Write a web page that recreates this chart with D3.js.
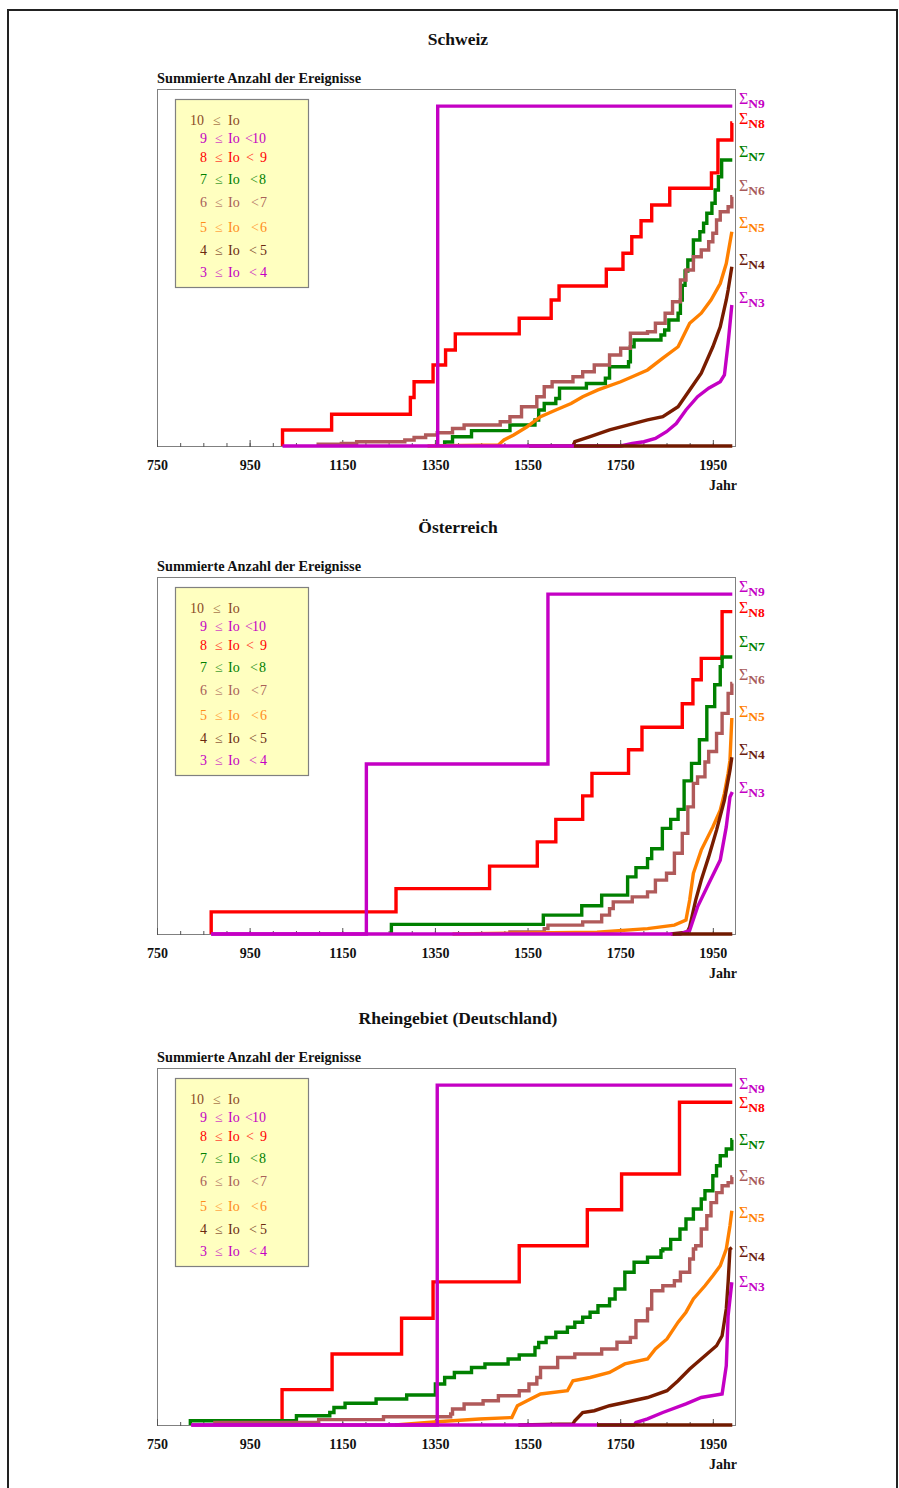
<!DOCTYPE html>
<html><head><meta charset="utf-8">
<script src="https://cdn.jsdelivr.net/npm/d3@7"></script>
<style>
html,body{margin:0;padding:0;background:#fff;}
svg{display:block;font-family:"Liberation Serif","Times New Roman",serif;}
</style></head><body>
<svg id="c" width="899" height="1488"></svg>
<script>
// ---------- DATA (year, cumulative count in % of panel height) ----------
const tickLabels = [750, 950, 1150, 1350, 1550, 1750, 1950];
const seriesKeys = ["N9","N8","N7","N6","N5","N4","N3"];
const legendNums = ["10","9","8","7","6","5","4","3"];
const legendUpper = ["", "10", "9", "8", "7", "6", "5", "4"];
const panelTitles = ["Schweiz", "Österreich", "Rheingebiet (Deutschland)"];

// Schweiz
const chN9 = [[1356,0],[1356,95.2],[1992,95.2]];
const chN8 = [[1021,0],[1021,4.5],[1127,8.9],[1297,13.6],[1305,18],[1346,22.7],[1373,26.9],[1394,31.4],[1532,35.8],[1601,40.9],[1618,44.8],[1720,49.5],[1756,54],[1775,58.6],[1795,63.1],[1818,67.5],[1857,72.2],[1947,76.5],[1961,85.7],[1991,90.5],[1992,90.5]];
const chN7 = [[1371,0],[1371,1.1],[1388,2.6],[1429,4.3],[1512,5.9],[1566,7.3],[1574,10.1],[1586,11.9],[1611,13.3],[1619,16.2],[1677,17.5],[1718,19],[1727,22.2],[1768,23.6],[1772,27.8],[1780,29.7],[1838,31.1],[1846,32.5],[1855,35.3],[1875,37.2],[1880,40.9],[1884,45],[1890,49],[1896,52.1],[1908,57.7],[1922,60],[1930,62.4],[1937,65.2],[1948,68],[1955,71.7],[1962,75.4],[1969,80.1],[1992,80.1]];
const chN6 = [[1098,0],[1098,0.5],[1148,0.7],[1181,1.2],[1285,1.7],[1305,2.4],[1330,3.1],[1355,3.7],[1388,4.9],[1413,5.9],[1491,6.8],[1512,8.2],[1537,11],[1570,13.8],[1586,16.6],[1603,18],[1648,19.4],[1669,20.8],[1694,22.7],[1727,25.5],[1751,27.4],[1772,31.6],[1809,32],[1826,34.4],[1847,37.2],[1863,40.4],[1880,46.5],[1892,49.3],[1908,53],[1925,54.9],[1941,57.2],[1950,59.6],[1958,63.3],[1966,65.6],[1983,67],[1991,69.8],[1992,69.8]];
const chN5 = [[1334,0],[1487,0.3],[1499,1.7],[1520,3.1],[1549,5.4],[1578,8.2],[1611,10.1],[1644,11.9],[1669,13.8],[1702,15.7],[1751,18],[1776,19.4],[1809,21.3],[1842,24.6],[1875,27.8],[1900,34.4],[1925,37.2],[1946,40.9],[1966,45.5],[1979,51.1],[1991,60]];
const chN4 = [[1553,0],[1648,0],[1652,1.2],[1685,2.6],[1727,4.5],[1768,5.9],[1809,7.3],[1842,8.2],[1875,11],[1900,15.7],[1925,20.4],[1950,27.8],[1966,33.4],[1979,40.9],[1983,43.7],[1991,50.2]];
const chN3 = [[1021,0],[1751,0],[1776,0.7],[1801,1.2],[1826,2.1],[1850,4],[1871,6.3],[1892,10.1],[1917,13.8],[1941,16.2],[1966,18],[1975,19.9],[1983,28.8],[1991,39.5]];
const chN10 = [[1650,0],[1992,0]];

// Österreich
const atN9 = [[867,0],[1202,0],[1202,47.6],[1594,47.6],[1594,95.2],[1992,95.2]];
const atN8 = [[867,0],[867,6.2],[1266,12.7],[1468,19],[1571,25.8],[1611,32.1],[1669,38.7],[1689,45],[1768,51.6],[1797,57.9],[1884,64.5],[1907,71.2],[1925,77.2],[1970,90.3],[1992,90.3]];
const atN7 = [[1256,0],[1256,2.7],[1584,5.3],[1667,7.9],[1710,10.9],[1766,16],[1784,18.6],[1809,21.1],[1818,23.9],[1841,29.6],[1859,32.1],[1875,34.9],[1888,42.9],[1904,47.8],[1921,54.4],[1937,63.7],[1954,69.8],[1966,74.9],[1970,77.6],[1992,77.6]];
const atN6 = [[1512,0],[1512,0.6],[1586,1.5],[1594,2.5],[1669,3.4],[1710,5.3],[1727,7.1],[1735,9],[1776,10.4],[1809,11.8],[1826,15.1],[1850,17],[1867,22.6],[1884,28.2],[1896,35.6],[1908,42.2],[1917,44],[1933,48.2],[1941,51.1],[1958,56.2],[1970,61.8],[1983,67.4],[1991,70.2],[1992,70.2]];
const atN5 = [[1388,0],[1700,0.5],[1809,1.5],[1867,2.5],[1892,3.9],[1900,9.5],[1908,17],[1925,23.5],[1950,30],[1966,34.7],[1975,39.4],[1983,45],[1987,48.7],[1991,60.5]];
const atN4 = [[1859,0],[1895,0.5],[1900,2],[1913,9.5],[1925,15.1],[1941,21.6],[1958,29.1],[1975,37.5],[1987,45.9],[1991,49.5]];
const atN3 = [[867,0],[1880,0],[1900,1],[1917,7.6],[1941,14.1],[1966,20.7],[1979,30],[1987,38.4],[1992,39.8]];
const atN10 = [[1863,0],[1992,0]];

// Rheingebiet
const rhN9 = [[824,0],[1355,0],[1355,95.2],[1992,95.2]];
const rhN8 = [[1020,0],[1020,9.9],[1128,19.9],[1278,29.9],[1346,40.1],[1532,50.2],[1679,60.3],[1753,70.3],[1878,90.4],[1992,90.4]];
const rhN7 = [[822,0],[822,1.2],[1051,2.6],[1123,3.5],[1132,4.9],[1156,6.1],[1223,7.3],[1289,8.4],[1351,11.5],[1371,13.3],[1392,14.7],[1429,16.1],[1458,17.1],[1508,18.5],[1532,19.6],[1566,21.7],[1574,23.1],[1590,24.5],[1611,26],[1636,27.4],[1652,28.8],[1669,30.2],[1685,31.6],[1702,33.4],[1727,35.3],[1739,38.1],[1760,42.8],[1780,45.6],[1809,47],[1838,48.8],[1842,49.3],[1859,52],[1879,54.9],[1892,57.7],[1908,60.5],[1925,63.3],[1933,65.6],[1950,69.8],[1958,72.6],[1966,75.4],[1979,77.3],[1991,79.9],[1992,79.9]];
const rhN6 = [[875,0],[875,0.7],[1099,1.5],[1239,2.3],[1384,3.1],[1388,4.5],[1413,5.9],[1454,6.8],[1487,8.2],[1532,9.6],[1553,11.5],[1570,13.3],[1578,16.1],[1615,18.9],[1652,19.9],[1710,21.3],[1743,23.2],[1772,24.5],[1784,29.2],[1809,32.5],[1818,37.6],[1842,39],[1867,40.4],[1880,42.8],[1900,46.5],[1908,49.3],[1913,50.2],[1925,54.9],[1937,58.6],[1946,62.3],[1958,65.1],[1970,67],[1983,67.9],[1991,69.5],[1992,69.5]];
const rhN5 = [[1264,0],[1355,0.9],[1446,1.7],[1516,2.1],[1528,5.4],[1549,6.8],[1578,8.7],[1636,9.6],[1648,12.4],[1685,13.3],[1727,14.7],[1760,17.1],[1809,18.5],[1826,21.3],[1851,24.1],[1875,28.8],[1892,31.6],[1908,35.3],[1933,39],[1950,41.8],[1966,44.6],[1979,49.3],[1987,55.8],[1991,60]];
const rhN4 = [[1530,0],[1648,0.3],[1652,1.2],[1669,3.5],[1694,4],[1727,5.4],[1760,6.3],[1809,7.7],[1851,9.6],[1875,12.4],[1900,15.7],[1933,19.4],[1958,22.2],[1970,25],[1979,32.5],[1983,40],[1987,49.3],[1991,49.7]];
const rhN3 = [[824,0],[1780,0],[1784,0.7],[1809,1.7],[1842,3.5],[1892,5.9],[1925,7.7],[1970,8.7],[1979,16.6],[1983,30.6],[1991,40]];
const rhN10 = [[1700,0],[1992,0]];

// ---------- STYLE / LAYOUT ----------
const lineColors = {N10:"#701a00",N9:"#c400c4",N8:"#ff0000",N7:"#008000",N6:"#b05a5a",N5:"#ff8000",N4:"#781c00",N3:"#c400c4"};
const labelColors = {N9:"#c400c4",N8:"#ff0000",N7:"#008000",N6:"#a85a5a",N5:"#ff8000",N4:"#6b2010",N3:"#c400c4"};
const legendColors = ["#8b4a26","#c400c4","#ff0000","#008000","#a86058","#ff8c1a","#6b2a10","#c400c4"];
// sparse series drawn as stairs, dense ones as a jagged line
const stepped = {N9:true,N8:true,N7:true,N6:true,N5:false,N4:false,N3:false,N10:false};
const drawOrder = ["N8","N7","N6","N5","N4","N3","N9","N10"];

const panels = [
  {top:89, data:{N9:chN9,N8:chN8,N7:chN7,N6:chN6,N5:chN5,N4:chN4,N3:chN3,N10:chN10}, labelY:[10,30,63,97,134,171,209]},
  {top:577, data:{N9:atN9,N8:atN8,N7:atN7,N6:atN6,N5:atN5,N4:atN4,N3:atN3,N10:atN10}, labelY:[10,31,65,98,135,173,211]},
  {top:1068, data:{N9:rhN9,N8:rhN8,N7:rhN7,N6:rhN6,N5:rhN5,N4:rhN4,N3:rhN3,N10:rhN10}, labelY:[16,35,72,108,145,184,214]}
];

const svg = d3.select("#c");
svg.append("rect").attr("x",8).attr("y",10).attr("width",889).attr("height",1500)
  .attr("fill","none").attr("stroke","#222").attr("stroke-width",2);

const x = d3.scaleLinear().domain([750,2000]).range([157,736]);

panels.forEach((p,i)=>{
  const top = p.top, H = 358, bottom = top + H;
  const y = d3.scaleLinear().domain([0,100]).range([bottom-1, top]);
  const g = svg.append("g");

  g.append("text").attr("x",458).attr("y",top-44).attr("text-anchor","middle")
    .attr("font-size",17.5).attr("font-weight","bold").attr("fill","#111").text(panelTitles[i]);
  g.append("text").attr("x",157).attr("y",top-6.5)
    .attr("font-size",14.3).attr("font-weight","bold").attr("fill","#111").text("Summierte Anzahl der Ereignisse");

  g.append("rect").attr("x",157.5).attr("y",top+0.5).attr("width",578).attr("height",H-1)
    .attr("fill","#fff").attr("stroke","#808080").attr("stroke-width",1);

  const minor = g.append("g").attr("transform",`translate(0,${bottom})`)
    .call(d3.axisBottom(x).tickValues(d3.range(750,2000,50)).tickSize(-4).tickFormat(""));
  minor.select(".domain").remove();
  minor.selectAll("line").attr("stroke","#555");
  const major = g.append("g").attr("transform",`translate(0,${bottom})`)
    .call(d3.axisBottom(x).tickValues(tickLabels).tickSize(-7).tickPadding(13.5).tickFormat(d3.format("d")));
  major.select(".domain").remove();
  major.selectAll("line").attr("stroke","#555");
  major.selectAll("text").attr("font-family","'Liberation Serif',serif").attr("font-size",14)
    .attr("font-weight","bold").attr("fill","#111");

  g.append("text").attr("x",737).attr("y",bottom+43).attr("text-anchor","end")
    .attr("font-size",14).attr("font-weight","bold").attr("fill","#111").text("Jahr");

  // legend
  const lg = g.append("g");
  lg.append("rect").attr("x",175.5).attr("y",top+10.5).attr("width",133).attr("height",188)
    .attr("fill","#ffffc0").attr("stroke","#808080").attr("stroke-width",1.2);
  const rowY = [31,48.7,68,89.7,113,137.7,161,182.7];
  const ltX = [0,245,246,250,251,251,249,249];
  const upX = [0,252,260,259,260,260,260,260];
  legendNums.forEach((n,k)=>{
    const yy = top + rowY[k] + 5;
    const c = legendColors[k];
    const t = lg.append("text").attr("font-size",14).attr("fill",c).attr("y",yy);
    t.append("tspan").attr("x", k===0?190:200).text(n);
    t.append("tspan").attr("x", k===0?213:215).attr("opacity",0.75).text("≤");
    t.append("tspan").attr("x", 228).text("Io");
    if (legendUpper[k]) {
      t.append("tspan").attr("x", ltX[k]).attr("opacity",0.85).text("<");
      t.append("tspan").attr("x", upX[k]).text(legendUpper[k]);
    }
  });

  // series lines
  drawOrder.forEach(key=>{
    const line = d3.line().x(d=>x(d[0])).y(d=>y(d[1]))
      .curve(stepped[key] ? d3.curveStepAfter : d3.curveLinear);
    g.append("path").datum(p.data[key]).attr("d",line)
      .attr("fill","none").attr("stroke",lineColors[key])
      .attr("stroke-width", 3.4).attr("stroke-linejoin","miter").attr("stroke-linecap","butt");
  });

  // right labels
  seriesKeys.forEach((key,k)=>{
    const cy = top + p.labelY[k];
    const t = g.append("text").attr("x",739).attr("y",cy+5).attr("fill",labelColors[key]);
    t.append("tspan").attr("font-size",16).text("Σ");
    t.append("tspan").attr("font-size",13.5).attr("font-weight","bold").attr("dy",4).text(key);
  });
});
</script>
</body></html>
